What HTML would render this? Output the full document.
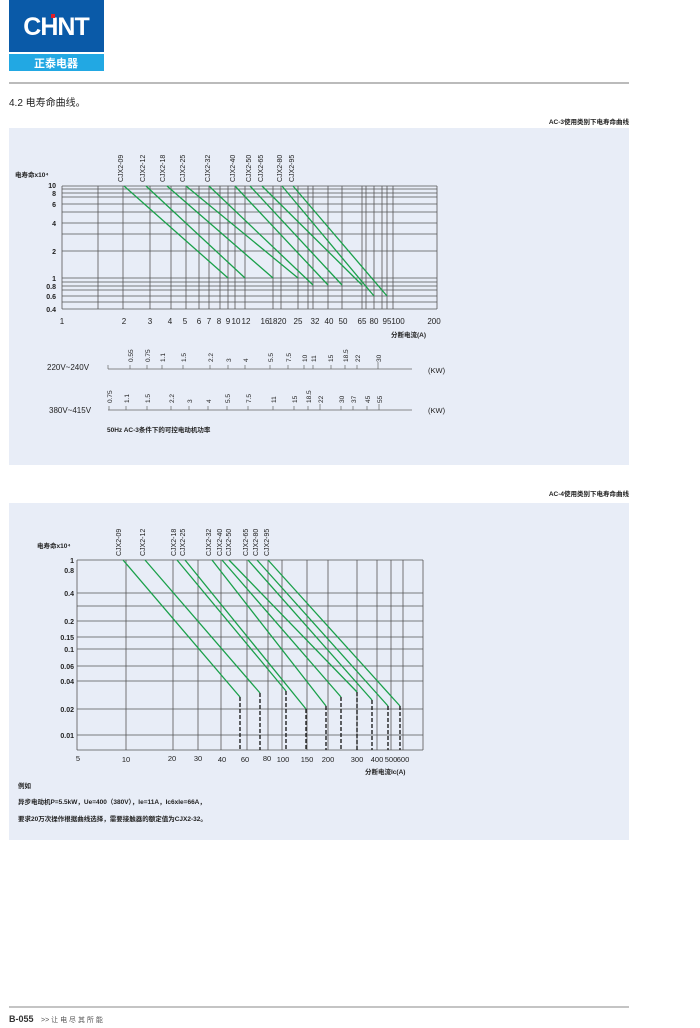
<!DOCTYPE html>
<html><head><meta charset="utf-8"><style>
body{margin:0;background:#fff;}
svg{display:block;font-family:"Liberation Sans","Noto Sans CJK SC",sans-serif;}
</style></head><body>
<svg width="700" height="1028" viewBox="0 0 700 1028" xmlns="http://www.w3.org/2000/svg">
<!-- logo -->
<rect x="9" y="0" width="95" height="52" fill="#0a5aa8"/>
<text x="56" y="35" font-size="25" font-weight="bold" fill="#fff" text-anchor="middle" letter-spacing="-1">CHNT</text>
<rect x="51" y="14" width="4" height="4" fill="#e0202a"/>
<rect x="9" y="54" width="95" height="17" fill="#22a8e3"/>
<text x="56" y="67" font-size="11" fill="#fff" text-anchor="middle" font-weight="bold">正泰电器</text>
<line x1="9" y1="83" x2="629" y2="83" stroke="#777" stroke-width="1"/>
<text x="9" y="106" font-size="10" fill="#222">4.2 电寿命曲线。</text>
<text x="629" y="124" font-size="6.5" fill="#222" text-anchor="end" font-weight="bold">AC-3使用类别下电寿命曲线</text>
<rect x="9" y="128" width="620" height="337" fill="#e8edf7"/>

<!-- chart 1 grid -->
<g stroke="#555" stroke-width="0.8">
<line x1="62" y1="186" x2="437" y2="186"/><line x1="62" y1="189" x2="437" y2="189"/><line x1="62" y1="193" x2="437" y2="193"/><line x1="62" y1="197" x2="437" y2="197"/><line x1="62" y1="204" x2="437" y2="204"/><line x1="62" y1="212" x2="437" y2="212"/><line x1="62" y1="223" x2="437" y2="223"/><line x1="62" y1="234" x2="437" y2="234"/><line x1="62" y1="251" x2="437" y2="251"/><line x1="62" y1="278" x2="437" y2="278"/><line x1="62" y1="282" x2="437" y2="282"/><line x1="62" y1="286" x2="437" y2="286"/><line x1="62" y1="290" x2="437" y2="290"/><line x1="62" y1="296" x2="437" y2="296"/><line x1="62" y1="302" x2="437" y2="302"/><line x1="62" y1="309" x2="437" y2="309"/>
<line x1="62" y1="186" x2="62" y2="309"/><line x1="98" y1="186" x2="98" y2="309"/><line x1="123" y1="186" x2="123" y2="309"/><line x1="150" y1="186" x2="150" y2="309"/><line x1="171" y1="186" x2="171" y2="309"/><line x1="186" y1="186" x2="186" y2="309"/><line x1="199" y1="186" x2="199" y2="309"/><line x1="209" y1="186" x2="209" y2="309"/><line x1="220" y1="186" x2="220" y2="309"/><line x1="228" y1="186" x2="228" y2="309"/><line x1="235" y1="186" x2="235" y2="309"/><line x1="245" y1="186" x2="245" y2="309"/><line x1="273" y1="186" x2="273" y2="309"/><line x1="281" y1="186" x2="281" y2="309"/><line x1="298" y1="186" x2="298" y2="309"/><line x1="308" y1="186" x2="308" y2="309"/><line x1="313" y1="186" x2="313" y2="309"/><line x1="328" y1="186" x2="328" y2="309"/><line x1="342" y1="186" x2="342" y2="309"/><line x1="362" y1="186" x2="362" y2="309"/><line x1="366" y1="186" x2="366" y2="309"/><line x1="374" y1="186" x2="374" y2="309"/><line x1="382" y1="186" x2="382" y2="309"/><line x1="387" y1="186" x2="387" y2="309"/><line x1="393" y1="186" x2="393" y2="309"/><line x1="437" y1="186" x2="437" y2="309"/>
</g>
<g stroke="#1aa04a" stroke-width="1.3">
<line x1="124" y1="186" x2="228" y2="278"/><line x1="146" y1="186" x2="245" y2="278"/><line x1="167" y1="186" x2="273" y2="278"/><line x1="186" y1="186" x2="298" y2="278"/><line x1="209" y1="186" x2="313" y2="285"/><line x1="235" y1="186" x2="328" y2="285"/><line x1="250" y1="186" x2="342" y2="285"/><line x1="262" y1="186" x2="362" y2="285"/><line x1="282" y1="186" x2="374" y2="296"/><line x1="293" y1="186" x2="387" y2="296"/>
</g>
<g font-size="7" fill="#222" text-anchor="start">
<text transform="translate(123,182) rotate(-90)">CJX2-09</text><text transform="translate(145,182) rotate(-90)">CJX2-12</text><text transform="translate(165,182) rotate(-90)">CJX2-18</text><text transform="translate(185,182) rotate(-90)">CJX2-25</text><text transform="translate(210,182) rotate(-90)">CJX2-32</text><text transform="translate(235,182) rotate(-90)">CJX2-40</text><text transform="translate(251,182) rotate(-90)">CJX2-50</text><text transform="translate(263,182) rotate(-90)">CJX2-65</text><text transform="translate(282,182) rotate(-90)">CJX2-80</text><text transform="translate(294,182) rotate(-90)">CJX2-95</text>
</g>
<text x="15" y="177" font-size="6.5" fill="#222" font-weight="bold">电寿命x10⁴</text>
<g font-size="7" fill="#222" text-anchor="end" font-weight="bold">
<text x="56" y="188">10</text><text x="56" y="196">8</text><text x="56" y="207">6</text><text x="56" y="226">4</text><text x="56" y="254">2</text><text x="56" y="281">1</text><text x="56" y="289">0.8</text><text x="56" y="299">0.6</text><text x="56" y="312">0.4</text>
</g>
<g font-size="8" fill="#222" text-anchor="middle">
<text x="62" y="324">1</text><text x="124" y="324">2</text><text x="150" y="324">3</text><text x="170" y="324">4</text><text x="185" y="324">5</text><text x="199" y="324">6</text><text x="209" y="324">7</text><text x="219" y="324">8</text><text x="228" y="324">9</text><text x="236" y="324">10</text><text x="246" y="324">12</text><text x="265" y="324">16</text><text x="273" y="324">18</text><text x="282" y="324">20</text><text x="298" y="324">25</text><text x="315" y="324">32</text><text x="329" y="324">40</text><text x="343" y="324">50</text><text x="362" y="324">65</text><text x="374" y="324">80</text><text x="387" y="324">95</text><text x="398" y="324">100</text><text x="434" y="324">200</text>
</g>
<text x="426" y="337" font-size="6.5" fill="#222" text-anchor="end" font-weight="bold">分断电流(A)</text>

<!-- kW rows -->
<g stroke="#666" stroke-width="0.7">
<line x1="108" y1="369" x2="412" y2="369"/><line x1="108" y1="365" x2="108" y2="369"/>
<line x1="130" y1="365" x2="130" y2="369"/><line x1="147" y1="365" x2="147" y2="369"/><line x1="162" y1="365" x2="162" y2="369"/><line x1="183" y1="365" x2="183" y2="369"/><line x1="210" y1="365" x2="210" y2="369"/><line x1="228" y1="365" x2="228" y2="369"/><line x1="245" y1="365" x2="245" y2="369"/><line x1="270" y1="365" x2="270" y2="369"/><line x1="288" y1="365" x2="288" y2="369"/><line x1="304" y1="365" x2="304" y2="369"/><line x1="313" y1="365" x2="313" y2="369"/><line x1="331" y1="365" x2="331" y2="369"/><line x1="345" y1="365" x2="345" y2="369"/><line x1="357" y1="365" x2="357" y2="369"/><line x1="378" y1="362" x2="378" y2="369"/>
<line x1="108" y1="410" x2="412" y2="410"/>
<line x1="109" y1="406" x2="109" y2="410"/><line x1="126" y1="406" x2="126" y2="410"/><line x1="147" y1="406" x2="147" y2="410"/><line x1="171" y1="406" x2="171" y2="410"/><line x1="189" y1="406" x2="189" y2="410"/><line x1="208" y1="406" x2="208" y2="410"/><line x1="227" y1="406" x2="227" y2="410"/><line x1="248" y1="406" x2="248" y2="410"/><line x1="273" y1="406" x2="273" y2="410"/><line x1="294" y1="406" x2="294" y2="410"/><line x1="308" y1="406" x2="308" y2="410"/><line x1="320" y1="404" x2="320" y2="410"/><line x1="341" y1="406" x2="341" y2="410"/><line x1="353" y1="406" x2="353" y2="410"/><line x1="367" y1="406" x2="367" y2="410"/><line x1="379" y1="404" x2="379" y2="410"/>
</g>
<g font-size="6.5" fill="#222">
<text transform="translate(133,362) rotate(-90)">0.55</text><text transform="translate(150,362) rotate(-90)">0.75</text><text transform="translate(165,362) rotate(-90)">1.1</text><text transform="translate(186,362) rotate(-90)">1.5</text><text transform="translate(213,362) rotate(-90)">2.2</text><text transform="translate(231,362) rotate(-90)">3</text><text transform="translate(248,362) rotate(-90)">4</text><text transform="translate(273,362) rotate(-90)">5.5</text><text transform="translate(291,362) rotate(-90)">7.5</text><text transform="translate(307,362) rotate(-90)">10</text><text transform="translate(316,362) rotate(-90)">11</text><text transform="translate(333,362) rotate(-90)">15</text><text transform="translate(348,362) rotate(-90)">18.5</text><text transform="translate(360,362) rotate(-90)">22</text><text transform="translate(381,362) rotate(-90)">30</text>
<text transform="translate(112,403) rotate(-90)">0.75</text><text transform="translate(129,403) rotate(-90)">1.1</text><text transform="translate(150,403) rotate(-90)">1.5</text><text transform="translate(174,403) rotate(-90)">2.2</text><text transform="translate(192,403) rotate(-90)">3</text><text transform="translate(211,403) rotate(-90)">4</text><text transform="translate(230,403) rotate(-90)">5.5</text><text transform="translate(251,403) rotate(-90)">7.5</text><text transform="translate(276,403) rotate(-90)">11</text><text transform="translate(297,403) rotate(-90)">15</text><text transform="translate(311,403) rotate(-90)">18.5</text><text transform="translate(323,403) rotate(-90)">22</text><text transform="translate(344,403) rotate(-90)">30</text><text transform="translate(356,403) rotate(-90)">37</text><text transform="translate(370,403) rotate(-90)">45</text><text transform="translate(382,403) rotate(-90)">55</text>
</g>
<g font-size="8" fill="#222">
<text x="47" y="370">220V~240V</text><text x="49" y="413">380V~415V</text>
<text x="428" y="373" font-size="7.5">(KW)</text><text x="428" y="413" font-size="7.5">(KW)</text>
</g>
<text x="107" y="432" font-size="6.5" fill="#222" font-weight="bold">50Hz  AC-3条件下的可控电动机功率</text>

<!-- chart 2 -->
<text x="629" y="496" font-size="6.5" fill="#222" text-anchor="end" font-weight="bold">AC-4使用类别下电寿命曲线</text>
<rect x="9" y="503" width="620" height="337" fill="#e8edf7"/>
<g stroke="#555" stroke-width="0.8">
<line x1="77" y1="560" x2="423" y2="560"/><line x1="77" y1="593" x2="423" y2="593"/><line x1="77" y1="606" x2="423" y2="606"/><line x1="77" y1="621" x2="423" y2="621"/><line x1="77" y1="637" x2="423" y2="637"/><line x1="77" y1="649" x2="423" y2="649"/><line x1="77" y1="666" x2="423" y2="666"/><line x1="77" y1="681" x2="423" y2="681"/><line x1="77" y1="709" x2="423" y2="709"/><line x1="77" y1="735" x2="423" y2="735"/><line x1="77" y1="750" x2="423" y2="750"/>
<line x1="77" y1="560" x2="77" y2="750"/><line x1="126" y1="560" x2="126" y2="750"/><line x1="173" y1="560" x2="173" y2="750"/><line x1="198" y1="560" x2="198" y2="750"/><line x1="221" y1="560" x2="221" y2="750"/><line x1="247" y1="560" x2="247" y2="750"/><line x1="268" y1="560" x2="268" y2="750"/><line x1="282" y1="560" x2="282" y2="750"/><line x1="307" y1="560" x2="307" y2="750"/><line x1="328" y1="560" x2="328" y2="750"/><line x1="357" y1="560" x2="357" y2="750"/><line x1="377" y1="560" x2="377" y2="750"/><line x1="391" y1="560" x2="391" y2="750"/><line x1="403" y1="560" x2="403" y2="750"/><line x1="423" y1="560" x2="423" y2="750"/>
</g>
<g stroke="#1aa04a" stroke-width="1.3">
<line x1="123" y1="560" x2="240" y2="697"/><line x1="145" y1="560" x2="260" y2="693"/><line x1="177" y1="560" x2="286" y2="691"/><line x1="185" y1="560" x2="306" y2="709"/><line x1="212" y1="560" x2="326" y2="706"/><line x1="222" y1="560" x2="341" y2="697"/><line x1="229" y1="560" x2="357" y2="692"/><line x1="248" y1="560" x2="372" y2="700"/><line x1="257" y1="560" x2="388" y2="706"/><line x1="268" y1="560" x2="400" y2="706"/>
</g>
<g stroke="#111" stroke-width="1.3" stroke-dasharray="4,2">
<line x1="240" y1="697" x2="240" y2="750"/><line x1="260" y1="693" x2="260" y2="750"/><line x1="286" y1="691" x2="286" y2="750"/><line x1="306" y1="709" x2="306" y2="750"/><line x1="326" y1="706" x2="326" y2="750"/><line x1="341" y1="697" x2="341" y2="750"/><line x1="357" y1="692" x2="357" y2="750"/><line x1="372" y1="700" x2="372" y2="750"/><line x1="388" y1="706" x2="388" y2="750"/><line x1="400" y1="706" x2="400" y2="750"/>
</g>
<g font-size="7" fill="#222">
<text transform="translate(121,556) rotate(-90)">CJX2-09</text><text transform="translate(145,556) rotate(-90)">CJX2-12</text><text transform="translate(176,556) rotate(-90)">CJX2-18</text><text transform="translate(185,556) rotate(-90)">CJX2-25</text><text transform="translate(211,556) rotate(-90)">CJX2-32</text><text transform="translate(222,556) rotate(-90)">CJX2-40</text><text transform="translate(231,556) rotate(-90)">CJX2-50</text><text transform="translate(248,556) rotate(-90)">CJX2-65</text><text transform="translate(258,556) rotate(-90)">CJX2-80</text><text transform="translate(269,556) rotate(-90)">CJX2-95</text>
</g>
<text x="37" y="548" font-size="6.5" fill="#222" font-weight="bold">电寿命x10⁴</text>
<g font-size="7" fill="#222" text-anchor="end" font-weight="bold">
<text x="74" y="563">1</text><text x="74" y="573">0.8</text><text x="74" y="596">0.4</text><text x="74" y="624">0.2</text><text x="74" y="640">0.15</text><text x="74" y="652">0.1</text><text x="74" y="669">0.06</text><text x="74" y="684">0.04</text><text x="74" y="712">0.02</text><text x="74" y="738">0.01</text>
</g>
<g font-size="7.5" fill="#222" text-anchor="middle">
<text x="78" y="761">5</text><text x="126" y="762">10</text><text x="172" y="761">20</text><text x="198" y="761">30</text><text x="222" y="762">40</text><text x="245" y="762">60</text><text x="267" y="761">80</text><text x="283" y="762">100</text><text x="307" y="762">150</text><text x="328" y="762">200</text><text x="357" y="762">300</text><text x="377" y="762">400</text><text x="391" y="762">500</text><text x="403" y="762">600</text>
</g>
<text x="365" y="774" font-size="6.5" fill="#222" font-weight="bold">分断电流Ic(A)</text>
<g font-size="6.5" fill="#222" font-weight="bold">
<text x="18" y="788">例如</text>
<text x="18" y="804">异步电动机P=5.5kW，Ue=400（380V），Ie=11A，Ic6xIe=66A，</text>
<text x="18" y="821">要求20万次操作根据曲线选择，需要接触器的额定值为CJX2-32。</text>
</g>

<!-- footer -->
<line x1="9" y1="1007" x2="629" y2="1007" stroke="#888" stroke-width="1"/>
<text x="9" y="1022" font-size="9" fill="#333" font-weight="bold">B-055</text>
<text x="41" y="1022" font-size="7" fill="#555">&gt;&gt;  让 电 尽 其 所 能</text>
</svg>
</body></html>
